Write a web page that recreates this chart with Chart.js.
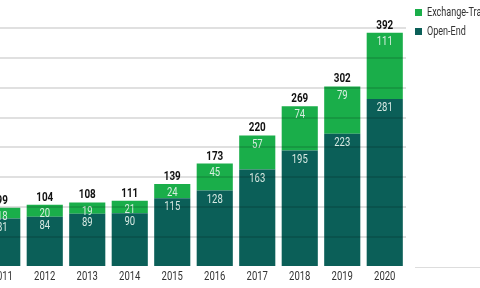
<!DOCTYPE html>
<html>
<head>
<meta charset="utf-8">
<script src="https://cdn.jsdelivr.net/npm/chart.js@4/dist/chart.umd.min.js"></script>
<style>
  html, body { margin: 0; padding: 0; background: #fff; overflow: hidden; }
  body { width: 480px; height: 288px; position: relative; font-family: Roboto, sans-serif; }
  #wrap { position: absolute; left: -19px; top: -2px; width: 499px; height: 290px; }
  .legend { position: absolute; left: 415px; width: 200px; font-size: 13.5px; color: #333; white-space: nowrap; }
  .legend i { display: inline-block; width: 7px; height: 7px; margin-right: 5px; vertical-align: 0px; }
  .legend span { display: inline-block; white-space: nowrap; transform: scaleX(0.67); transform-origin: left center; }
  #baseline { position: absolute; left: 415px; top: 267px; width: 65px; height: 1px; background: #ddd; }
</style>
</head>
<body>
<div id="wrap"><canvas id="chart"></canvas></div>
<div class="legend" style="top:3px"><i style="background:#1aae4a"></i><span>Exchange-Traded</span></div>
<div class="legend" style="top:22px"><i style="background:#0b5f58"></i><span>Open-End</span></div>
<div id="baseline"></div>
<script>
const years = ['2011', '2012', '2013', '2014', '2015', '2016', '2017', '2018', '2019', '2020'];
const openEnd = [81, 84, 89, 90, 115, 128, 163, 195, 223, 281];
const exchangeTraded = [18, 20, 19, 21, 24, 45, 57, 74, 79, 111];
const totals = [99, 104, 108, 111, 139, 173, 220, 269, 302, 392];

const FONT = 'Roboto, sans-serif';
const SQUEEZE = 0.76;

// the source uses a condensed face; squeeze Roboto horizontally instead
function condensedText(ctx, text, x, y) {
  ctx.save();
  ctx.translate(x, y);
  ctx.scale(SQUEEZE, 1);
  ctx.fillText(text, 0, 0);
  ctx.restore();
}

const labelPlugin = {
  id: 'barLabels',
  afterDatasetsDraw(chart) {
    const ctx = chart.ctx;
    ctx.save();
    ctx.textAlign = 'center';
    chart.data.datasets.forEach((ds, di) => {
      const meta = chart.getDatasetMeta(di);
      meta.data.forEach((bar, i) => {
        ctx.font = `12.5px ${FONT}`;
        ctx.fillStyle = 'rgba(232,244,238,0.92)';
        ctx.textBaseline = 'middle';
        condensedText(ctx, String(ds.data[i]), bar.x, bar.y + 9);
        if (di === chart.data.datasets.length - 1) {
          ctx.font = `bold 13px ${FONT}`;
          ctx.fillStyle = '#111';
          ctx.textBaseline = 'alphabetic';
          condensedText(ctx, String(totals[i]), bar.x, bar.y - 4);
        }
      });
    });
    // year labels under the bars, placed by the x scale
    const xs = chart.scales.x;
    ctx.font = `12.5px ${FONT}`;
    ctx.fillStyle = '#333';
    ctx.textBaseline = 'alphabetic';
    years.forEach((y, i) => condensedText(ctx, y, xs.getPixelForTick(i), xs.top + 12.5));
    ctx.restore();
  }
};

new Chart(document.getElementById('chart'), {
  type: 'bar',
  data: {
    labels: years,
    datasets: [
      { label: 'Open-End', data: openEnd, backgroundColor: '#0b5f58', barPercentage: 0.85, categoryPercentage: 1 },
      { label: 'Exchange-Traded', data: exchangeTraded, backgroundColor: '#1aae4a', barPercentage: 0.85, categoryPercentage: 1 }
    ]
  },
  options: {
    responsive: true,
    maintainAspectRatio: false,
    animation: false,
    layout: { padding: { left: 0, right: 74, top: 0, bottom: 0 } },
    plugins: { legend: { display: false }, tooltip: { enabled: false } },
    scales: {
      x: {
        stacked: true,
        grid: { display: false },
        border: { display: false },
        ticks: { display: false },
        afterFit: (s) => { s.height = 21; }
      },
      y: {
        stacked: true,
        min: 0,
        max: 450,
        grid: {
          z: 1,
          lineWidth: 2,
          drawTicks: false,
          color: (c) => (c.tick && c.tick.value === 0) ? 'rgba(0,0,0,0)' : 'rgba(0,0,0,0.12)'
        },
        border: { display: false },
        ticks: { display: false, stepSize: 50 },
        afterFit: (s) => { s.width = 0; }
      }
    }
  },
  plugins: [labelPlugin]
});
</script>
</body>
</html>
